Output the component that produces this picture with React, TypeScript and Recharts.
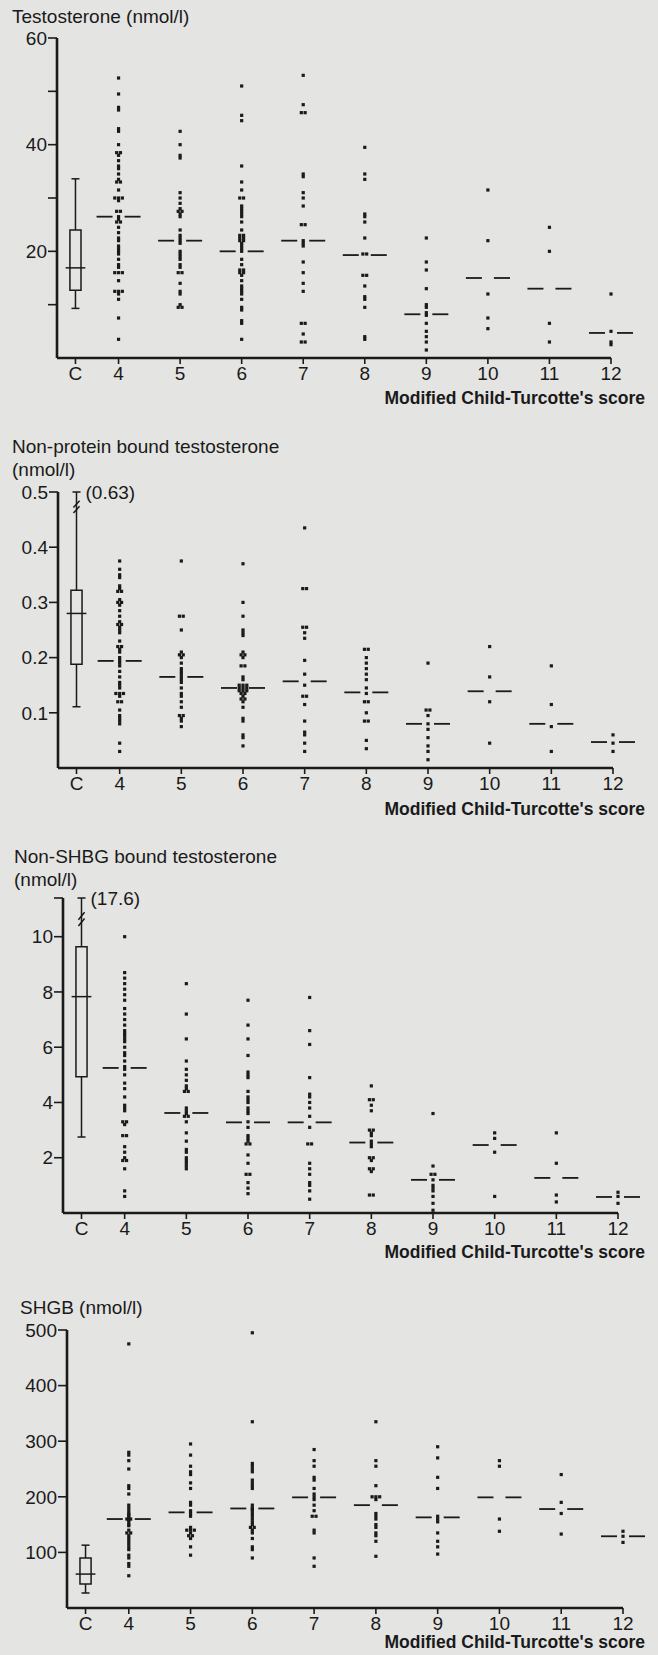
import React from "react";
import {
  ScatterChart,
  Scatter,
  XAxis,
  YAxis,
  ReferenceArea,
  ReferenceLine,
  ReferenceDot,
} from "recharts";

// scores on the x axis; the control group sits just left of score 4
const scores = [4, 5, 6, 7, 8, 9, 10, 11, 12];
const controlScore = 3.3;
const xTicks = [controlScore, ...scores];
const xTickLabels = ["C", "4", "5", "6", "7", "8", "9", "10", "11", "12"];

// Testosterone (nmol/l), one list per score 4..12
const testoValues = [
  [52.5, 49.5, 47, 46.5, 43, 42.5, 40, 38.5, 38.5, 38, 37, 36, 35.5, 34.5, 33.5, 33, 33, 31.5, 30, 30, 30, 29.5, 27.5, 27.5, 26.5, 26, 25.5, 25.5, 24.5, 23.5, 22.5, 22, 21, 20.5, 20, 19.5, 18.5, 17.5, 17, 16, 16, 16, 14.5, 12.5, 12.5, 12.5, 12, 11, 7.5, 3.5],
  [42.5, 40, 38, 37.5, 31, 30, 29, 28, 27.5, 27.5, 27, 26.5, 24, 23, 22.5, 22, 21.5, 20, 19.5, 19, 18.5, 17.5, 17, 16, 16, 14, 12.5, 12, 10, 9.5, 9.5],
  [51, 45.5, 44.5, 36, 33, 31.5, 30, 30, 28.5, 28, 27.5, 27, 26.5, 25.5, 24, 23, 23, 22.5, 22.5, 22, 22, 21.5, 21, 20.5, 20, 18.5, 17.5, 16.5, 16.5, 16, 16, 15.5, 14.5, 13.5, 13, 12.5, 12, 11, 9.5, 9, 7, 6.5, 3.5],
  [53, 47.5, 46, 46, 34.5, 34, 31, 30, 28.5, 25, 25, 22, 21.5, 21, 18, 16, 14, 12.5, 6.5, 6.5, 4.5, 3, 3],
  [39.5, 34.5, 33.5, 27, 26.5, 25.5, 22.5, 19.5, 19.5, 15.5, 15.5, 13.5, 11.5, 11, 9.5, 4, 3.5],
  [22.5, 18, 16.5, 13, 10, 9.5, 8.5, 8, 6.5, 5, 4, 3, 1.5],
  [31.5, 22, 12, 7.5, 5.5],
  [24.5, 20, 6.5, 3],
  [12, 5, 3, 2.5],
];
const testoMedians = [26.5, 22, 20, 22, 19.3, 8.2, 15, 13, 4.7];
// control: min, q1, median, q3, max
const testoControl = [9.3, 12.7, 16.9, 24, 33.6];
const testoTicks = [10, 20, 30, 40, 50, 60];
const testoTickLabels = ["", "20", "", "40", "", "60"];

// Non-protein bound testosterone (nmol/l)
const npValues = [
  [0.375, 0.36, 0.35, 0.345, 0.33, 0.325, 0.32, 0.32, 0.305, 0.3, 0.3, 0.295, 0.285, 0.275, 0.265, 0.26, 0.26, 0.255, 0.25, 0.245, 0.23, 0.22, 0.22, 0.215, 0.21, 0.2, 0.195, 0.19, 0.185, 0.175, 0.165, 0.155, 0.15, 0.145, 0.135, 0.135, 0.135, 0.13, 0.12, 0.12, 0.105, 0.095, 0.09, 0.085, 0.08, 0.045, 0.03],
  [0.375, 0.275, 0.275, 0.25, 0.21, 0.205, 0.205, 0.2, 0.19, 0.18, 0.175, 0.17, 0.165, 0.16, 0.155, 0.145, 0.135, 0.13, 0.12, 0.11, 0.095, 0.095, 0.09, 0.085, 0.075],
  [0.37, 0.3, 0.275, 0.25, 0.245, 0.24, 0.21, 0.205, 0.205, 0.2, 0.185, 0.185, 0.165, 0.16, 0.15, 0.15, 0.15, 0.145, 0.145, 0.145, 0.14, 0.14, 0.14, 0.135, 0.135, 0.13, 0.125, 0.125, 0.12, 0.11, 0.09, 0.085, 0.06, 0.055, 0.04],
  [0.435, 0.325, 0.325, 0.255, 0.255, 0.245, 0.235, 0.195, 0.17, 0.15, 0.13, 0.13, 0.115, 0.085, 0.065, 0.06, 0.045, 0.03],
  [0.215, 0.215, 0.2, 0.19, 0.18, 0.17, 0.16, 0.145, 0.135, 0.12, 0.12, 0.1, 0.085, 0.085, 0.05, 0.035],
  [0.19, 0.105, 0.105, 0.095, 0.08, 0.07, 0.055, 0.04, 0.03, 0.015],
  [0.22, 0.165, 0.12, 0.045],
  [0.185, 0.115, 0.075, 0.03],
  [0.06, 0.045, 0.03],
];
const npMedians = [0.194, 0.165, 0.145, 0.157, 0.137, 0.08, 0.139, 0.08, 0.047];
const npControl = [0.111, 0.188, 0.28, 0.322, 0.63];
const npTicks = [0.1, 0.2, 0.3, 0.4, 0.5];
const npTickLabels = ["0.1", "0.2", "0.3", "0.4", "0.5"];

// Non-SHBG bound testosterone (nmol/l)
const nsValues = [
  [10, 8.7, 8.5, 8.3, 8.1, 7.9, 7.7, 7.4, 7.2, 7, 6.8, 6.6, 6.5, 6.4, 6.3, 6.2, 6, 5.8, 5.7, 5.5, 5.3, 5.2, 5, 4.7, 4.5, 4.2, 3.9, 3.8, 3.7, 3.3, 3.3, 3.2, 2.8, 2.8, 2.4, 2.2, 2, 1.9, 1.9, 1.6, 0.8, 0.6],
  [8.3, 7.2, 6.3, 5.5, 5.2, 5, 4.8, 4.6, 4.5, 4.4, 4.4, 3.8, 3.7, 3.6, 3.5, 3.5, 3.3, 2.9, 2.6, 2.3, 2.2, 2, 1.9, 1.8, 1.7, 1.6],
  [7.7, 6.8, 6.3, 5.7, 5.1, 5, 4.9, 4.4, 4.2, 4.1, 4, 3.8, 3.7, 3.6, 3.3, 3.1, 2.8, 2.7, 2.6, 2.5, 2.5, 2.1, 1.8, 1.4, 1.4, 1.1, 0.9, 0.7],
  [7.8, 6.6, 6.1, 4.9, 4.3, 4.2, 4, 3.8, 3.5, 3.1, 2.5, 2.5, 1.8, 1.6, 1.4, 1.1, 1, 0.8, 0.5],
  [4.6, 4.1, 4.1, 3.9, 3.7, 3, 3, 2.9, 2.8, 2.6, 2.5, 2.4, 2, 2, 1.9, 1.6, 1.6, 1.5, 0.65, 0.65],
  [3.6, 1.7, 1.4, 1.4, 1.2, 1, 0.9, 0.8, 0.6, 0.35, 0.1],
  [2.9, 2.7, 2.2, 0.6],
  [2.9, 1.8, 0.65, 0.4],
  [0.75, 0.6, 0.35],
];
const nsMedians = [5.25, 3.62, 3.28, 3.28, 2.55, 1.2, 2.46, 1.27, 0.58];
const nsControl = [2.75, 4.93, 7.83, 9.64, 17.6];
const nsTicks = [2, 4, 6, 8, 10, 11.4];
const nsTickLabels = ["2", "4", "6", "8", "10", ""];

// SHBG (nmol/l)
const shValues = [
  [475, 280, 275, 265, 250, 220, 215, 205, 185, 180, 175, 170, 168, 165, 162, 160, 160, 158, 155, 150, 148, 140, 135, 135, 130, 125, 120, 115, 110, 105, 95, 90, 80, 75, 58],
  [295, 275, 255, 245, 240, 225, 215, 190, 185, 175, 170, 165, 145, 140, 140, 140, 135, 130, 130, 125, 110, 95],
  [495, 335, 260, 255, 250, 245, 230, 225, 220, 215, 185, 180, 178, 175, 170, 165, 160, 155, 150, 145, 145, 140, 135, 125, 110, 105, 90],
  [285, 265, 255, 235, 230, 215, 205, 200, 195, 185, 175, 165, 165, 140, 135, 90, 75],
  [335, 265, 255, 220, 200, 200, 200, 195, 170, 165, 160, 150, 145, 135, 130, 120, 93],
  [290, 270, 235, 215, 165, 160, 155, 135, 120, 110, 97],
  [265, 255, 160, 138],
  [240, 190, 170, 133],
  [138, 129, 118],
];
const shMedians = [160, 172, 179, 199, 185, 163, 199, 178, 129];
const shControl = [27, 43, 61, 90, 113];
const shTicks = [100, 200, 300, 400, 500];
const shTickLabels = ["100", "200", "300", "400", "500"];

const INK = "#1a1a1a";
const FONT = "'Liberation Sans', Arial, sans-serif";
const XTITLE = "Modified Child-Turcotte's score";

type Panel = {
  title: string[];
  values: number[][];
  medians: number[];
  control: number[];
  ticks: number[];
  tickLabels: string[];
  domainTop: number;
  breakAt?: number;
  top: number;
  height: number;
  mt: number;
  mr: number;
  mb: number;
  axisX: number;
  titleTop: number;
  titleLeft: number;
  xTitleTop: number;
};

const panels: Panel[] = [
  {
    title: ["Testosterone (nmol/l)"],
    values: testoValues, medians: testoMedians, control: testoControl,
    ticks: testoTicks, tickLabels: testoTickLabels, domainTop: 60,
    top: 0, height: 390, mt: 38, mr: 47, mb: 2, axisX: 57,
    titleTop: 7, titleLeft: 12, xTitleTop: 389,
  },
  {
    title: ["Non-protein bound testosterone", "(nmol/l)"],
    values: npValues, medians: npMedians, control: npControl,
    ticks: npTicks, tickLabels: npTickLabels, domainTop: 0.5, breakAt: 0.478,
    top: 480, height: 320, mt: 12, mr: 45, mb: 2, axisX: 58,
    titleTop: 437, titleLeft: 12, xTitleTop: 800,
  },
  {
    title: ["Non-SHBG bound testosterone", "(nmol/l)"],
    values: nsValues, medians: nsMedians, control: nsControl,
    ticks: nsTicks, tickLabels: nsTickLabels, domainTop: 11.4, breakAt: 10.75,
    top: 885, height: 360, mt: 13, mr: 40, mb: 2, axisX: 63,
    titleTop: 847, titleLeft: 14, xTitleTop: 1243,
  },
  {
    title: ["SHGB (nmol/l)"],
    values: shValues, medians: shMedians, control: shControl,
    ticks: shTicks, tickLabels: shTickLabels, domainTop: 500,
    top: 1318, height: 325, mt: 12, mr: 35, mb: 5, axisX: 67,
    titleTop: 1298, titleLeft: 20, xTitleTop: 1633,
  },
];

// equal values in a group are spread side by side
function buildPoints(values: number[][]) {
  const pts: { x: number; y: number; off: number }[] = [];
  values.forEach((list, gi) => {
    const counts = new Map<number, number>();
    list.forEach((v) => counts.set(v, (counts.get(v) || 0) + 1));
    const seen = new Map<number, number>();
    list.forEach((v) => {
      const n = counts.get(v) || 1;
      const k = seen.get(v) || 0;
      seen.set(v, k + 1);
      pts.push({ x: scores[gi], y: v, off: k - (n - 1) / 2 });
    });
  });
  return pts;
}

const DotMark = (p: any) => {
  const off = p.payload?.off ?? p.off ?? 0;
  return <rect x={p.cx + off * 3.8 - 1.6} y={p.cy - 1.6} width={3.2} height={3.2} fill={INK} />;
};

const MedianMark = (p: any) => (
  <g stroke={INK} strokeWidth={1.8}>
    <line x1={p.cx - 22} x2={p.cx - 6} y1={p.cy} y2={p.cy} />
    <line x1={p.cx + 6} x2={p.cx + 22} y1={p.cy} y2={p.cy} />
  </g>
);

function DotPanel({ cfg }: { cfg: Panel }) {
  const points = buildPoints(cfg.values);
  const medianPts = scores.map((s, i) => ({ x: s, y: cfg.medians[i] }));
  const [lo, q1, med, q3, hi] = cfg.control;
  const broken = cfg.breakAt !== undefined;
  const whiskerTop = broken ? cfg.domainTop : hi;
  const c = controlScore;
  const span = cfg.domainTop;
  const lineProps = { stroke: INK, strokeWidth: 1.5 };
  const tickStyle = { fill: INK, fontSize: 19, fontFamily: FONT };
  return (
    <div style={{ position: "absolute", left: 0, top: cfg.top }}>
      <ScatterChart
        width={658}
        height={cfg.height}
        margin={{ top: cfg.mt, right: cfg.mr, bottom: cfg.mb, left: 0 }}
      >
        <XAxis
          type="number"
          dataKey="x"
          domain={[3, 12]}
          ticks={xTicks}
          tickFormatter={(v: number) => xTickLabels[xTicks.indexOf(v)] ?? ""}
          height={30}
          tickSize={6}
          tickMargin={3}
          axisLine={{ stroke: INK, strokeWidth: 2.6 }}
          tickLine={{ stroke: INK, strokeWidth: 1.6 }}
          tick={tickStyle}
        />
        <YAxis
          type="number"
          dataKey="y"
          domain={[0, cfg.domainTop]}
          ticks={cfg.ticks}
          tickFormatter={(v: number) => cfg.tickLabels[cfg.ticks.indexOf(v)] ?? ""}
          width={cfg.axisX}
          tickSize={9}
          tickMargin={1}
          axisLine={{ stroke: INK, strokeWidth: 2.6 }}
          tickLine={{ stroke: INK, strokeWidth: 1.6 }}
          tick={tickStyle}
        />
        <ReferenceArea x1={c - 0.09} x2={c + 0.09} y1={q1} y2={q3} fill="none" fillOpacity={0} {...lineProps} />
        <ReferenceLine segment={[{ x: c, y: lo }, { x: c, y: q1 }]} {...lineProps} />
        <ReferenceLine segment={[{ x: c, y: q3 }, { x: c, y: whiskerTop }]} {...lineProps} />
        <ReferenceLine segment={[{ x: c - 0.065, y: lo }, { x: c + 0.065, y: lo }]} {...lineProps} />
        <ReferenceLine segment={[{ x: c - 0.065, y: whiskerTop }, { x: c + 0.065, y: whiskerTop }]} {...lineProps} />
        <ReferenceLine segment={[{ x: c - 0.16, y: med }, { x: c + 0.16, y: med }]} {...lineProps} />
        {broken && (
          <ReferenceLine
            segment={[
              { x: c - 0.05, y: cfg.breakAt! - span * 0.012 },
              { x: c + 0.05, y: cfg.breakAt! + span * 0.012 },
            ]}
            {...lineProps}
          />
        )}
        {broken && (
          <ReferenceLine
            segment={[
              { x: c - 0.05, y: cfg.breakAt! - span * 0.032 },
              { x: c + 0.05, y: cfg.breakAt! - span * 0.008 },
            ]}
            {...lineProps}
          />
        )}
        {broken && (
          <ReferenceDot
            x={c}
            y={cfg.domainTop}
            r={0}
            fill="none"
            stroke="none"
            label={{ value: `(${hi})`, position: "right", offset: 9, fill: INK, fontSize: 19, fontFamily: FONT }}
          />
        )}
        <Scatter data={points} shape={DotMark} isAnimationActive={false} />
        <Scatter data={medianPts} shape={MedianMark} isAnimationActive={false} />
      </ScatterChart>
    </div>
  );
}

export default function App() {
  const textStyle: React.CSSProperties = {
    position: "absolute",
    fontFamily: FONT,
    fontSize: 19,
    lineHeight: "19px",
    color: INK,
    whiteSpace: "nowrap",
  };
  return (
    <div
      style={{
        position: "absolute",
        left: 0,
        top: 0,
        width: 658,
        height: 1655,
        background: "#e4e4e2",
        overflow: "hidden",
      }}
    >
      {panels.map((cfg, i) => (
        <React.Fragment key={i}>
          {cfg.title.map((t, j) => (
            <div key={j} style={{ ...textStyle, left: cfg.titleLeft, top: cfg.titleTop + j * 23 }}>
              {t}
            </div>
          ))}
          <DotPanel cfg={cfg} />
          <div style={{ ...textStyle, fontSize: 17.5, lineHeight: "18px", right: 13, top: cfg.xTitleTop, fontWeight: 700 }}>
            {XTITLE}
          </div>
        </React.Fragment>
      ))}
    </div>
  );
}
